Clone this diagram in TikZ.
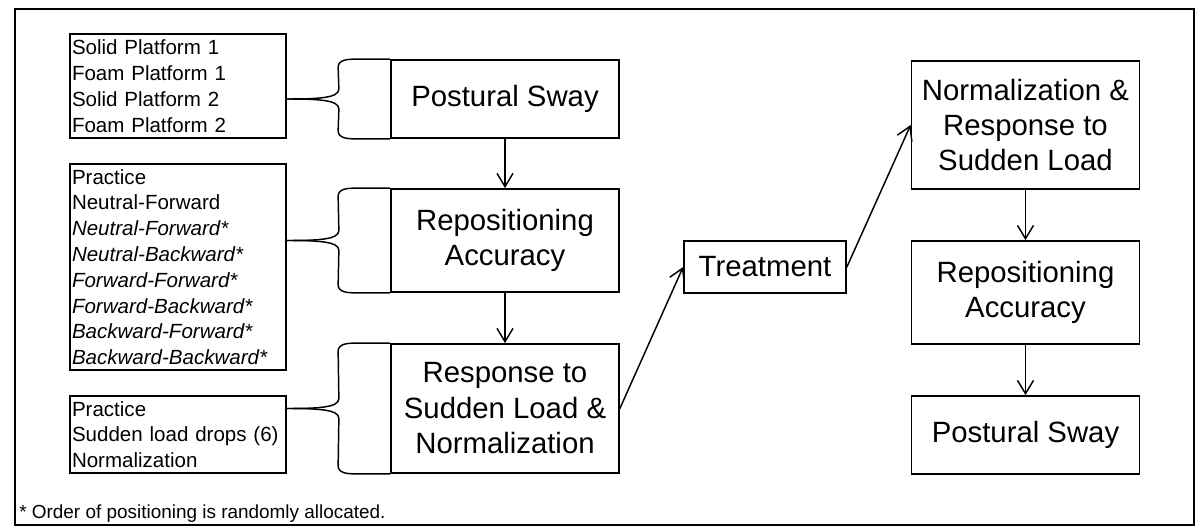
\documentclass[tikz,border=0pt]{standalone}
\usepackage{fontspec}
\setmainfont{Liberation Sans}
\usepackage{tikz}
\usetikzlibrary{arrows.meta,calc,positioning}
\tikzset{
  stage/.style={draw,line width=1.3pt,align=center,minimum width=171pt,
    inner sep=0pt,font=\fontsize{22}{26.6}\selectfont},
  list/.style={draw,line width=1.3pt,align=left,text width=159pt,
    inner xsep=1.5pt,inner ysep=0pt,font=\fontsize{15.4}{19.35}\selectfont},
  brace/.style={line width=1.1pt},
  frame/.style={line width=1.3pt}
}
\tikzstyle{flow} = [line width=1.1pt,line cap=round,-{Straight Barb[length=10pt,width=12pt]}]

\begin{document}
\begin{tikzpicture}[x=0.75pt,y=-0.75pt]
  \useasboundingbox (0,0) rectangle (1200,531);
  \draw[frame] (15,9) rectangle (1194,525);

  % Measurement details
  \node[list,minimum height=78pt] (plat) at (178,86)
    {Solid Platform 1\\Foam Platform 1\\Solid Platform 2\\Foam Platform 2};
  \node[list,minimum height=154.5pt] (posn) at (178,267)
    {Practice\\Neutral-Forward\\\textit{Neutral-Forward*}\\\textit{Neutral-Backward*}\\
     \textit{Forward-Forward*}\\\textit{Forward-Backward*}\\\textit{Backward-Forward*}\\
     \textit{Backward-Backward*}};
  \node[list,minimum height=57.75pt] (load) at (178,434.5)
    {Practice\\Sudden load drops (6)\\Normalization};

  % Pre-treatment session
  \node[stage,minimum height=58.5pt] (swayA) at (505,99) {Postural Sway};
  \node[stage,minimum height=77.25pt] (reposA) at (505,240.5) {Repositioning\\Accuracy};
  \node[stage,minimum height=96.75pt] (loadA) at (505,408.5)
    {Response to\\Sudden Load \&\\Normalization};

  \node[stage,minimum width=121.5pt,minimum height=39pt] (treat) at (765,267) {Treatment};

  % Post-treatment session
  \node[stage,minimum height=96pt] (normB) at (1025.5,125)
    {Normalization \&\\Response to\\Sudden Load};
  \node[stage,minimum height=77.25pt] (reposB) at (1025.5,292.5) {Repositioning\\Accuracy};
  \node[stage,minimum height=58.5pt] (swayB) at (1025.5,435) {Postural Sway};

  \node[anchor=base west,inner sep=0pt,font=\fontsize{14.2}{17}\selectfont] (note) at (19,518)
    {* Order of positioning is randomly allocated.};

  % Braces
  \foreach \src/\dst in {plat/swayA,posn/reposA,load/loadA}{
    \coordinate (tip) at (\src.east |- \dst.west);
    \foreach \cor/\sg/\aout in {north west/-1/90,south west/1/-90}
      \draw[brace] (tip) .. controls ($(tip)+(32,0)$) and ($(tip)+(52,1*\sg)$)
        .. ($(tip)+(52,10*\sg)$)
        -- ($(\dst.\cor)+(-52,-8*\sg)$) to[out=\aout,in=180] ($(\dst.\cor)+(-35,0)$)
        -- (\dst.\cor);
  }

  % Flow
  \draw[flow] (swayA.south) -- (reposA.north);
  \draw[flow] (reposA.south) -- (loadA.north);
  \draw[flow] (loadA.east) -- (treat.west);
  \draw[flow] (treat.east) -- (normB.west);
  \draw[flow] (normB.south) -- (reposB.north);
  \draw[flow] (reposB.south) -- (swayB.north);
\end{tikzpicture}
\end{document}
